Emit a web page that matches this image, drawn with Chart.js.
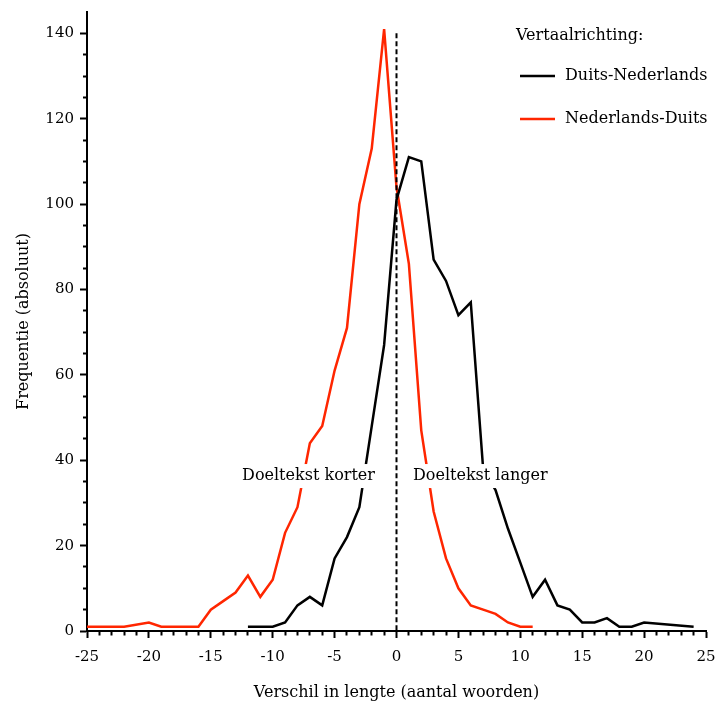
<!DOCTYPE html>
<html>
<head>
<meta charset="utf-8">
<script src="https://cdn.jsdelivr.net/npm/chart.js@4.4.0/dist/chart.umd.min.js"></script>
<style>
  html, body { margin: 0; padding: 0; background: #fff; }
  #wrap { width: 717px; height: 706px; }
</style>
</head>
<body>
<div id="wrap"><canvas id="lengthChart" width="717" height="706"></canvas></div>
<script>
const xDeNl = [-12, -11, -10, -9, -8, -7, -6, -5, -4, -3, -2, -1, 0, 1, 2, 3, 4, 5, 6, 7, 8, 9, 10, 11, 12, 13, 14, 15, 16, 17, 18, 19, 20, 24];
const yDeNl = [1, 1, 1, 2, 6, 8, 6, 17, 22, 29, 48, 67, 101, 111, 110, 87, 82, 74, 77, 38, 33, 24, 16, 8, 12, 6, 5, 2, 2, 3, 1, 1, 2, 1];

const xNlDe = [-25, -24, -23, -22, -20, -19, -18, -17, -16, -15, -14, -13, -12, -11, -10, -9, -8, -7, -6, -5, -4, -3, -2, -1, 0, 1, 2, 3, 4, 5, 6, 7, 8, 9, 10, 11];
const yNlDe = [1, 1, 1, 1, 2, 1, 1, 1, 1, 5, 7, 9, 13, 8, 12, 23, 29, 44, 48, 61, 71, 100, 113, 141, 104, 86, 47, 28, 17, 10, 6, 5, 4, 2, 1, 1];

const seriesNames = ['Duits-Nederlands', 'Nederlands-Duits'];
const legendTitle = 'Vertaalrichting:';
const xTitle = 'Verschil in lengte (aantal woorden)';
const yTitle = 'Frequentie (absoluut)';
const noteLeft = 'Doeltekst korter';
const noteRight = 'Doeltekst langer';

const serif = 'DejaVu Serif';
const red = 'rgb(255, 38, 0)';

function toPoints(xs, ys) {
    return xs.map(function(x, i) { return { x: x, y: ys[i] }; });
}

// dashed zero line + the two notes with a white box behind them
const notesPlugin = {
    id: 'notes',
    afterDatasetsDraw: function(chart) {
        const ctx = chart.ctx;
        const x = chart.scales.x, y = chart.scales.y;
        const x0 = x.getPixelForValue(0);
        ctx.save();
        ctx.strokeStyle = '#000';
        ctx.lineWidth = 2;
        ctx.setLineDash([5, 3]);
        ctx.beginPath();
        ctx.moveTo(x0, y.getPixelForValue(140));
        ctx.lineTo(x0, y.getPixelForValue(0));
        ctx.stroke();
        ctx.setLineDash([]);

        ctx.font = '16px "' + serif + '"';
        ctx.textBaseline = 'middle';
        const ty = y.getPixelForValue(36.3);
        const wl = ctx.measureText(noteLeft).width;
        const wr = ctx.measureText(noteRight).width;
        const lx = x.getPixelForValue(-1.74);
        const rx = x.getPixelForValue(1.33);
        ctx.fillStyle = '#fff';
        ctx.fillRect(lx - wl - 3, ty - 12, wl + 6, 24);
        ctx.fillRect(rx - 3, ty - 12, wr + 6, 24);
        ctx.fillStyle = '#000';
        ctx.textAlign = 'right';
        ctx.fillText(noteLeft, lx, ty);
        ctx.textAlign = 'left';
        ctx.fillText(noteRight, rx, ty);
        ctx.restore();
    },
    afterDraw: function(chart) {
        // legend inside the plot, top right
        const ctx = chart.ctx;
        ctx.save();
        ctx.font = '16px "' + serif + '"';
        ctx.textBaseline = 'middle';
        ctx.textAlign = 'left';
        ctx.fillStyle = '#000';
        ctx.fillText(legendTitle, 516, 36);
        chart.data.datasets.forEach(function(ds, i) {
            const ly = 76 + i * 43;
            ctx.strokeStyle = ds.borderColor;
            ctx.lineWidth = 2.5;
            ctx.beginPath();
            ctx.moveTo(520, ly);
            ctx.lineTo(555, ly);
            ctx.stroke();
            ctx.fillStyle = '#000';
            ctx.fillText(ds.label, 565, ly);
        });
        ctx.restore();
    }
};

const tickFont = { family: serif, size: 15 };
const titleFont = { family: serif, size: 16 };

var ctx = document.getElementById('lengthChart').getContext('2d');
var lengthChart = new Chart(ctx, {
    type: 'line',
    data: {
        datasets: [{
            label: seriesNames[0],
            data: toPoints(xDeNl, yDeNl),
            borderColor: '#000',
            borderWidth: 2.5,
            pointRadius: 0,
            tension: 0
        }, {
            label: seriesNames[1],
            data: toPoints(xNlDe, yNlDe),
            borderColor: red,
            borderWidth: 2.5,
            pointRadius: 0,
            tension: 0
        }]
    },
    options: {
        responsive: false,
        maintainAspectRatio: false,
        animation: false,
        layout: { padding: { left: 10, top: 12, right: 11, bottom: 0 } },
        plugins: {
            legend: { display: false },
            tooltip: { enabled: false }
        },
        scales: {
            x: {
                type: 'linear',
                min: -25,
                max: 25,
                afterFit: function(scale) {
                    scale.height = 75;
                    scale.paddingLeft = 0;
                    scale.paddingRight = 0;
                },
                border: { display: true, color: '#000', width: 2 },
                grid: {
                    drawOnChartArea: false,
                    tickLength: 7,
                    tickWidth: 2,
                    tickColor: '#000',
                    tickBorderDash: function(c) {
                        return c.tick && c.tick.value % 5 === 0 ? [] : [3.5, 100];
                    }
                },
                ticks: {
                    stepSize: 1,
                    autoSkip: false,
                    maxRotation: 0,
                    padding: 10,
                    color: '#000',
                    font: tickFont,
                    callback: function(v) { return v % 5 === 0 ? v : ''; }
                },
                title: { display: true, text: xTitle, color: '#000', font: titleFont }
            },
            y: {
                min: 0,
                max: 145,
                afterFit: function(scale) {
                    scale.width = 77;
                    scale.paddingTop = 0;
                    scale.paddingBottom = 0;
                },
                border: { display: true, color: '#000', width: 2 },
                grid: {
                    drawOnChartArea: false,
                    tickLength: 7,
                    tickWidth: 2,
                    tickColor: function(c) {
                        return c.tick && c.tick.value > 140 ? 'rgba(0,0,0,0)' : '#000';
                    },
                    tickBorderDash: function(c) {
                        return c.tick && c.tick.value % 20 === 0 ? [] : [0, 3, 10, 0];
                    }
                },
                ticks: {
                    stepSize: 5,
                    autoSkip: false,
                    padding: 6,
                    color: '#000',
                    font: tickFont,
                    callback: function(v) { return v % 20 === 0 ? v : ''; }
                },
                title: { display: true, text: yTitle, color: '#000', font: titleFont }
            }
        }
    },
    plugins: [notesPlugin]
});
</script>
</body>
</html>
